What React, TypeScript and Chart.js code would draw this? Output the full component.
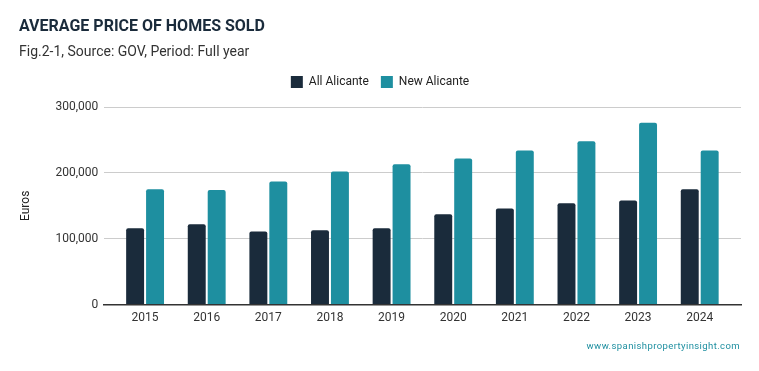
import React, { useEffect, useRef } from "react";
import { Chart, registerables } from "chart.js";

Chart.register(...registerables);

const years = ["2015", "2016", "2017", "2018", "2019", "2020", "2021", "2022", "2023", "2024"];
const allAlicante = [116000, 122000, 111000, 113000, 116000, 137000, 146000, 154000, 158000, 175000];
const newAlicante = [175000, 174000, 187000, 202000, 213000, 222000, 234000, 248000, 276000, 234000];
const seriesNames = ["All Alicante", "New Alicante"];

const DARK = "#1a2b3b";
const TEAL = "#1e8fa0";
const FONT = "Roboto, 'Noto Sans', sans-serif";

const legendSpacer = {
  id: "legendSpacer",
  beforeInit(chart: any) {
    const legend = chart.legend;
    if (!legend) return;
    const orig = legend.fit;
    legend.fit = function () {
      orig.call(this);
      this.height += 9;
    };
  },
};

export default function App() {
  const ref = useRef<HTMLCanvasElement | null>(null);
  useEffect(() => {
    document.body.style.margin = "0";
    const ctx = ref.current!.getContext("2d")!;
    const toPoints = (arr: number[]) => arr.map((v, i) => ({ x: i, y: v }));
    const chart = new Chart(ctx, {
      type: "bar",
      data: {
        datasets: [
          { label: seriesNames[0], data: toPoints(allAlicante), backgroundColor: DARK, borderRadius: 2, categoryPercentage: 0.647, barPercentage: 0.9 },
          { label: seriesNames[1], data: toPoints(newAlicante), backgroundColor: TEAL, borderRadius: 2, categoryPercentage: 0.647, barPercentage: 0.9 },
        ],
      },
      plugins: [legendSpacer],
      options: {
        responsive: false,
        animation: false,
        layout: { padding: { left: 19, right: 18, top: 0, bottom: 40 } },
        plugins: {
          title: {
            display: true,
            text: "AVERAGE PRICE OF HOMES SOLD",
            align: "start",
            color: DARK,
            font: { family: FONT, size: 16, weight: "bold" },
            padding: { top: 17, bottom: 8 },
          },
          subtitle: {
            display: true,
            text: "Fig.2-1, Source: GOV, Period: Full year",
            align: "start",
            color: "#333333",
            font: { family: FONT, size: 14 },
            padding: { top: 0, bottom: 3 },
          },
          legend: {
            display: true,
            position: "top",
            labels: {
              color: "#222222",
              font: { family: FONT, size: 12 },
              boxWidth: 12,
              boxHeight: 12,
              padding: 12,
            },
          },
          tooltip: { enabled: false },
        },
        scales: {
          x: {
            type: "linear",
            min: -0.663,
            max: 9.67,
            offset: false,
            afterBuildTicks: (scale: any) => {
              scale.ticks = scale.ticks.filter((t: any) => Number.isInteger(t.value));
            },
            grid: { display: false, drawTicks: false },
            border: { display: true, color: "#333333", width: 1.5 },
            ticks: {
              stepSize: 1,
              includeBounds: false,
              autoSkip: false,
              maxRotation: 0,
              color: "#333333",
              font: { family: FONT, size: 12 },
              padding: 6,
              callback: (v: any) => (Number.isInteger(v) ? years[v] : null),
            },
          },
          y: {
            min: 0,
            max: 300000,
            grid: { color: "#cccccc", drawTicks: false },
            border: { display: false },
            ticks: {
              stepSize: 100000,
              color: "#333333",
              font: { family: FONT, size: 12 },
              padding: 6,
              callback: (v: any) => Number(v).toLocaleString("en-US"),
            },
            title: {
              display: true,
              text: "Euros",
              color: "#222222",
              font: { family: FONT, size: 12 },
              padding: { top: 0, bottom: 16 },
            },
          },
        },
      },
    });
    return () => chart.destroy();
  }, []);
  return (
    <div style={{ position: "relative", width: 759, height: 371 }}>
      <canvas ref={ref} width={759} height={371} />
      <div
        style={{
          position: "absolute",
          right: 19,
          top: 340,
          fontFamily: FONT,
          fontSize: 9.5,
          color: TEAL,
          letterSpacing: 0.4,
        }}
      >
        www.spanishpropertyinsight.com
      </div>
    </div>
  );
}
